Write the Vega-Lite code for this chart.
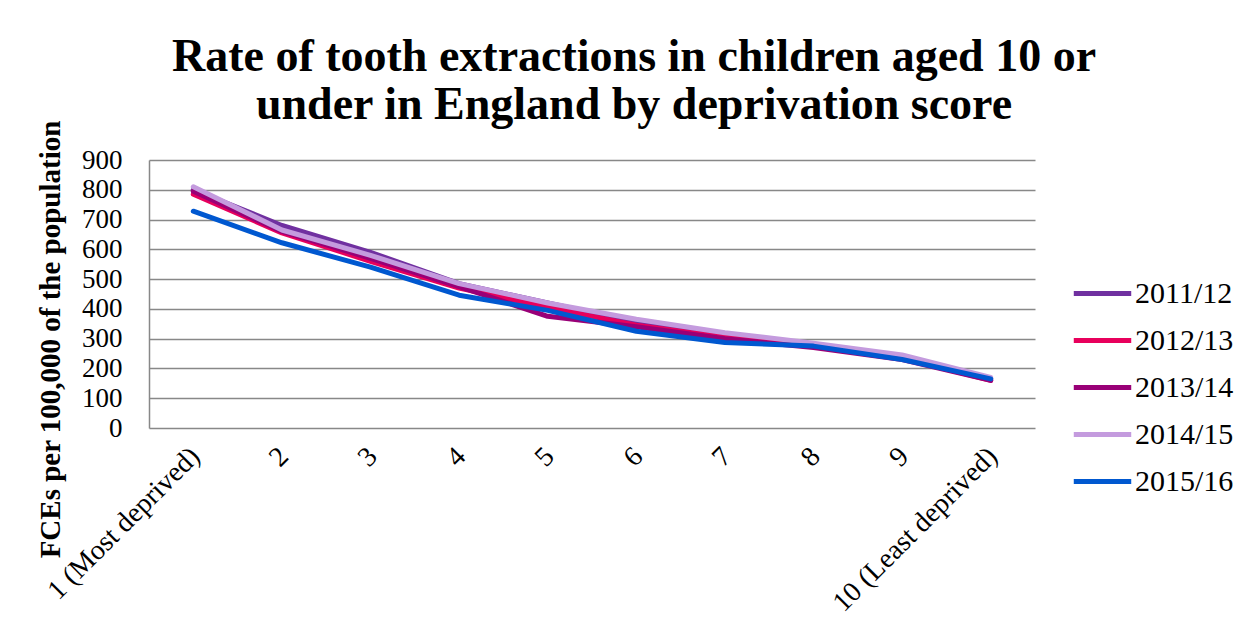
{
  "$schema": "https://vega.github.io/schema/vega-lite/v6.json",
  "width": 886,
  "height": 268,
  "autosize": {"type": "none"},
  "padding": {"left": 149, "top": 160, "right": 219, "bottom": 211},
  "background": "white",
  "title": {
    "text": ["Rate of tooth extractions in children aged 10 or", "under in England by deprivation score"],
    "font": "Liberation Serif",
    "fontSize": 46,
    "fontWeight": "bold",
    "color": "black",
    "anchor": "middle",
    "dx": 42,
    "offset": -9,
    "lineHeight": 48
  },
  "data": {
    "values": [
      {"decile": "1 (Most deprived)", "year": "2011/12", "value": 800},
      {"decile": "2", "year": "2011/12", "value": 680},
      {"decile": "3", "year": "2011/12", "value": 590},
      {"decile": "4", "year": "2011/12", "value": 485},
      {"decile": "5", "year": "2011/12", "value": 420},
      {"decile": "6", "year": "2011/12", "value": 355},
      {"decile": "7", "year": "2011/12", "value": 310},
      {"decile": "8", "year": "2011/12", "value": 280},
      {"decile": "9", "year": "2011/12", "value": 240},
      {"decile": "10 (Least deprived)", "year": "2011/12", "value": 165},
      {"decile": "1 (Most deprived)", "year": "2012/13", "value": 785},
      {"decile": "2", "year": "2012/13", "value": 655},
      {"decile": "3", "year": "2012/13", "value": 560},
      {"decile": "4", "year": "2012/13", "value": 470},
      {"decile": "5", "year": "2012/13", "value": 405},
      {"decile": "6", "year": "2012/13", "value": 345},
      {"decile": "7", "year": "2012/13", "value": 305},
      {"decile": "8", "year": "2012/13", "value": 275},
      {"decile": "9", "year": "2012/13", "value": 235},
      {"decile": "10 (Least deprived)", "year": "2012/13", "value": 160},
      {"decile": "1 (Most deprived)", "year": "2013/14", "value": 795},
      {"decile": "2", "year": "2013/14", "value": 660},
      {"decile": "3", "year": "2013/14", "value": 570},
      {"decile": "4", "year": "2013/14", "value": 475},
      {"decile": "5", "year": "2013/14", "value": 375},
      {"decile": "6", "year": "2013/14", "value": 340},
      {"decile": "7", "year": "2013/14", "value": 300},
      {"decile": "8", "year": "2013/14", "value": 270},
      {"decile": "9", "year": "2013/14", "value": 230},
      {"decile": "10 (Least deprived)", "year": "2013/14", "value": 160},
      {"decile": "1 (Most deprived)", "year": "2014/15", "value": 810},
      {"decile": "2", "year": "2014/15", "value": 665},
      {"decile": "3", "year": "2014/15", "value": 580},
      {"decile": "4", "year": "2014/15", "value": 485},
      {"decile": "5", "year": "2014/15", "value": 420},
      {"decile": "6", "year": "2014/15", "value": 365},
      {"decile": "7", "year": "2014/15", "value": 320},
      {"decile": "8", "year": "2014/15", "value": 285},
      {"decile": "9", "year": "2014/15", "value": 245},
      {"decile": "10 (Least deprived)", "year": "2014/15", "value": 170},
      {"decile": "1 (Most deprived)", "year": "2015/16", "value": 728},
      {"decile": "2", "year": "2015/16", "value": 622},
      {"decile": "3", "year": "2015/16", "value": 540},
      {"decile": "4", "year": "2015/16", "value": 446},
      {"decile": "5", "year": "2015/16", "value": 395},
      {"decile": "6", "year": "2015/16", "value": 325},
      {"decile": "7", "year": "2015/16", "value": 287},
      {"decile": "8", "year": "2015/16", "value": 275},
      {"decile": "9", "year": "2015/16", "value": 230},
      {"decile": "10 (Least deprived)", "year": "2015/16", "value": 165}
    ]
  },
  "mark": {"type": "line", "strokeWidth": 5, "strokeCap": "round", "strokeJoin": "round"},
  "encoding": {
    "x": {
      "field": "decile",
      "type": "ordinal",
      "sort": ["1 (Most deprived)", "2", "3", "4", "5", "6", "7", "8", "9", "10 (Least deprived)"],
      "scale": {"type": "point", "padding": 0.5},
      "axis": {
        "title": null,
        "domain": false,
        "ticks": false,
        "grid": false,
        "labelAngle": -45,
        "labelAlign": "right",
        "labelBaseline": "top",
        "labelPadding": 14,
        "labelOffset": -8,
        "labelFont": "Liberation Serif",
        "labelFontSize": 28,
        "labelColor": "black",
        "labelOverlap": false,
        "labelLimit": 0
      }
    },
    "y": {
      "field": "value",
      "type": "quantitative",
      "scale": {"domain": [0, 900], "nice": false},
      "axis": {
        "title": "FCEs per 100,000 of the population",
        "titleFont": "Liberation Serif",
        "titleFontSize": 29,
        "titleFontWeight": "bold",
        "titleColor": "black",
        "titleAngle": -90,
        "titleAlign": "center",
        "titleBaseline": "middle",
        "titleX": -99,
        "titleY": 179,
        "values": [0, 100, 200, 300, 400, 500, 600, 700, 800, 900],
        "domain": true,
        "domainColor": "#888888",
        "domainWidth": 1.5,
        "ticks": false,
        "labelPadding": 27,
        "labelFont": "Liberation Serif",
        "labelFontSize": 27,
        "labelColor": "black",
        "grid": true,
        "gridColor": "#888888",
        "gridWidth": 1.5
      }
    },
    "color": {
      "field": "year",
      "type": "nominal",
      "scale": {
        "domain": ["2011/12", "2012/13", "2013/14", "2014/15", "2015/16"],
        "range": ["#7030A0", "#E8005C", "#990077", "#C49BDE", "#0058D0"]
      },
      "legend": {
        "title": null,
        "orient": "none",
        "legendX": 922,
        "legendY": 102,
        "symbolType": "stroke",
        "symbolStrokeWidth": 5,
        "symbolSize": 3300,
        "rowPadding": -10,
        "labelOffset": 1,
        "labelFont": "Liberation Serif",
        "labelFontSize": 30,
        "labelColor": "black"
      }
    },
    "order": {"field": "year"}
  },
  "config": {
    "view": {"stroke": null}
  }
}
